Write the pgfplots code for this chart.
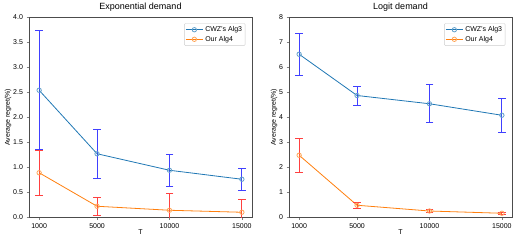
\documentclass[border=0pt]{standalone}
\usepackage{pgfplots}
\pgfplotsset{compat=1.18}
\usepackage{fontspec}
\setmainfont{Liberation Sans}
\definecolor{tabblue}{HTML}{1F77B4}
\definecolor{taborange}{HTML}{FF7F0E}
\definecolor{ebblue}{HTML}{4040FF}
\definecolor{ebred}{HTML}{FF4040}
\pgfplotsset{
  myaxis/.style={
    scale only axis, width=223pt, height=200pt,
    xmin=300, xmax=15700,
    xtick={1000,5000,10000,15000},
    xticklabels={1000,5000,10000,15000},
    scaled x ticks=false,
    tick align=outside, tick pos=left,
    major tick length=2.5pt,
    tick label style={font=\fontsize{7}{8}\selectfont},
    label style={font=\fontsize{7}{8}\selectfont},
    title style={font=\fontsize{9}{10}\selectfont, yshift=-4pt},
    xlabel={T}, ylabel={Average regret(\%)},
    xlabel style={yshift=5pt}, ylabel style={yshift=-5pt},
    /pgf/number format/assume math mode=true,
    legend pos=north east,
    legend style={font=\fontsize{7}{8}\selectfont, draw=black!20, rounded corners=1pt, inner sep=1pt, row sep=-1pt},
    legend cell align=left,
    axis line style={black!70},
    unbounded coords=jump,
  },
  ebb/.style={draw=ebblue, line width=1pt, mark=-, mark size=3.8pt, mark options={draw=ebblue, solid, line width=1pt}, forget plot},
  ebr/.style={draw=ebred, line width=1pt, mark=-, mark size=3.8pt, mark options={draw=ebred, solid, line width=1pt}, forget plot},
  cwz/.style={draw=tabblue, thick, mark=o, mark size=2.2pt, mark options={fill=tabblue!40, draw=tabblue!70}},
  ours/.style={draw=taborange, thick, mark=o, mark size=2.2pt, mark options={fill=taborange!40, draw=taborange!70}},
}
\begin{document}
\begin{tikzpicture}
\path (0,0) rectangle (521pt,245pt);
\begin{axis}[myaxis, at={(29pt,28pt)}, anchor=south west,
  title={Exponential demand}, ymin=0, ymax=4,
  ytick={0,0.5,1,1.5,2,2.5,3,3.5,4},
  yticklabel style={/pgf/number format/fixed, /pgf/number format/fixed zerofill, /pgf/number format/precision=1}]
\addplot[ebb] coordinates {(1000,1.35) (1000,3.73) (1000,nan) (5000,0.785) (5000,1.755) (5000,nan) (10000,0.62) (10000,1.26) (10000,nan) (15000,0.535) (15000,0.985)};
\addplot[ebr] coordinates {(1000,0.44) (1000,1.34) (1000,nan) (5000,0.04) (5000,0.40) (5000,nan) (10000,-0.20) (10000,0.48) (10000,nan) (15000,-0.15) (15000,0.35)};
\addplot[cwz] coordinates {(1000,2.54) (5000,1.27) (10000,0.94) (15000,0.76)};
\addlegendentry{CWZ's Alg3}
\addplot[ours] coordinates {(1000,0.89) (5000,0.22) (10000,0.14) (15000,0.10)};
\addlegendentry{Our Alg4}
\end{axis}
\begin{axis}[myaxis, at={(289pt,28pt)}, anchor=south west,
  title={Logit demand}, ymin=0, ymax=8,
  ytick={0,1,2,3,4,5,6,7,8}]
\addplot[ebb] coordinates {(1000,5.67) (1000,7.37) (1000,nan) (5000,4.49) (5000,5.25) (5000,nan) (10000,3.78) (10000,5.30) (10000,nan) (15000,3.40) (15000,4.76)};
\addplot[ebr] coordinates {(1000,1.81) (1000,3.15) (1000,nan) (5000,0.35) (5000,0.61) (5000,nan) (10000,0.20) (10000,0.30) (10000,nan) (15000,0.12) (15000,0.20)};
\addplot[cwz] coordinates {(1000,6.52) (5000,4.87) (10000,4.54) (15000,4.08)};
\addlegendentry{CWZ's Alg3}
\addplot[ours] coordinates {(1000,2.48) (5000,0.48) (10000,0.25) (15000,0.16)};
\addlegendentry{Our Alg4}
\end{axis}
\end{tikzpicture}
\end{document}
